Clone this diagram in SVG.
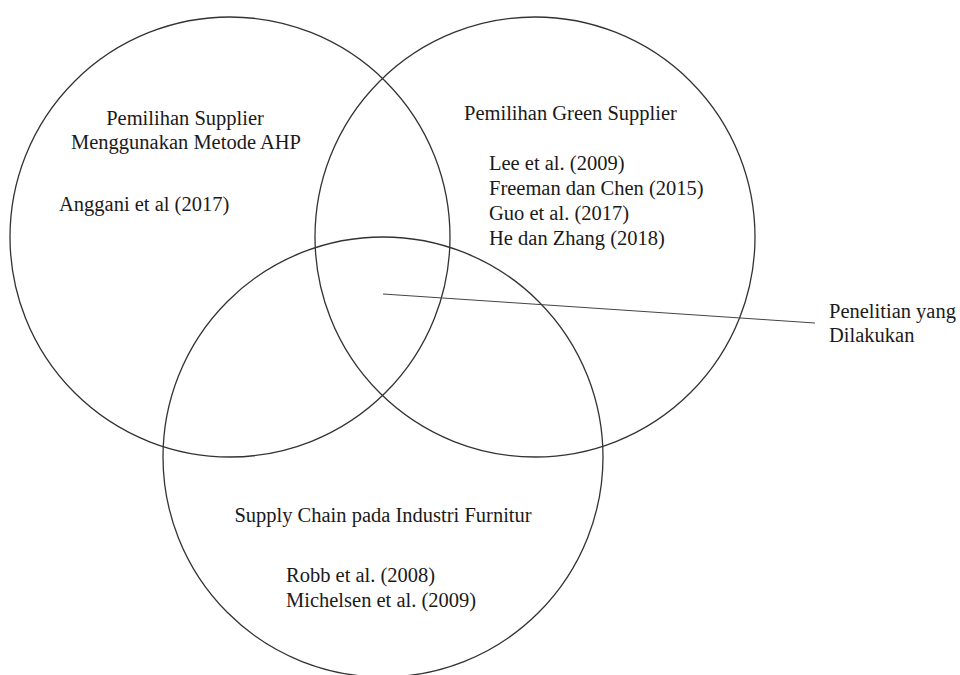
<svg xmlns="http://www.w3.org/2000/svg" width="960" height="675" viewBox="0 0 960 675">
<style>
.c{fill:none;stroke:#333;stroke-width:1.3}
.t{font-family:"Liberation Serif","Times New Roman",serif;font-size:20.5px;fill:#1a1a1a}
.l{stroke:#444;stroke-width:1;fill:none}
</style>
<rect width="960" height="675" fill="#fff"/>
<g id="circle-ahp">
<circle class="c" cx="230" cy="237" r="220"/>
<text class="t" x="185" y="125" text-anchor="middle">Pemilihan Supplier</text>
<text class="t" x="186" y="149" text-anchor="middle">Menggunakan Metode AHP</text>
<text class="t" x="59" y="211">Anggani et al (2017)</text>
</g>
<g id="circle-green">
<circle class="c" cx="535" cy="237" r="220"/>
<text class="t" x="464" y="120">Pemilihan Green Supplier</text>
<text class="t" x="489" y="170">Lee et al. (2009)</text>
<text class="t" x="489" y="195">Freeman dan Chen (2015)</text>
<text class="t" x="489" y="220">Guo et al. (2017)</text>
<text class="t" x="489" y="245">He dan Zhang (2018)</text>
</g>
<g id="circle-furnitur">
<circle class="c" cx="383" cy="457" r="220"/>
<text class="t" x="383" y="522" text-anchor="middle">Supply Chain pada Industri Furnitur</text>
<text class="t" x="286" y="582">Robb et al. (2008)</text>
<text class="t" x="286" y="607">Michelsen et al. (2009)</text>
</g>
<g id="connectors">
<line class="l" x1="383" y1="294" x2="815" y2="323"/>
</g>
<g id="label-penelitian">
<text class="t" x="829" y="318">Penelitian yang</text>
<text class="t" x="829" y="342">Dilakukan</text>
</g>
</svg>
